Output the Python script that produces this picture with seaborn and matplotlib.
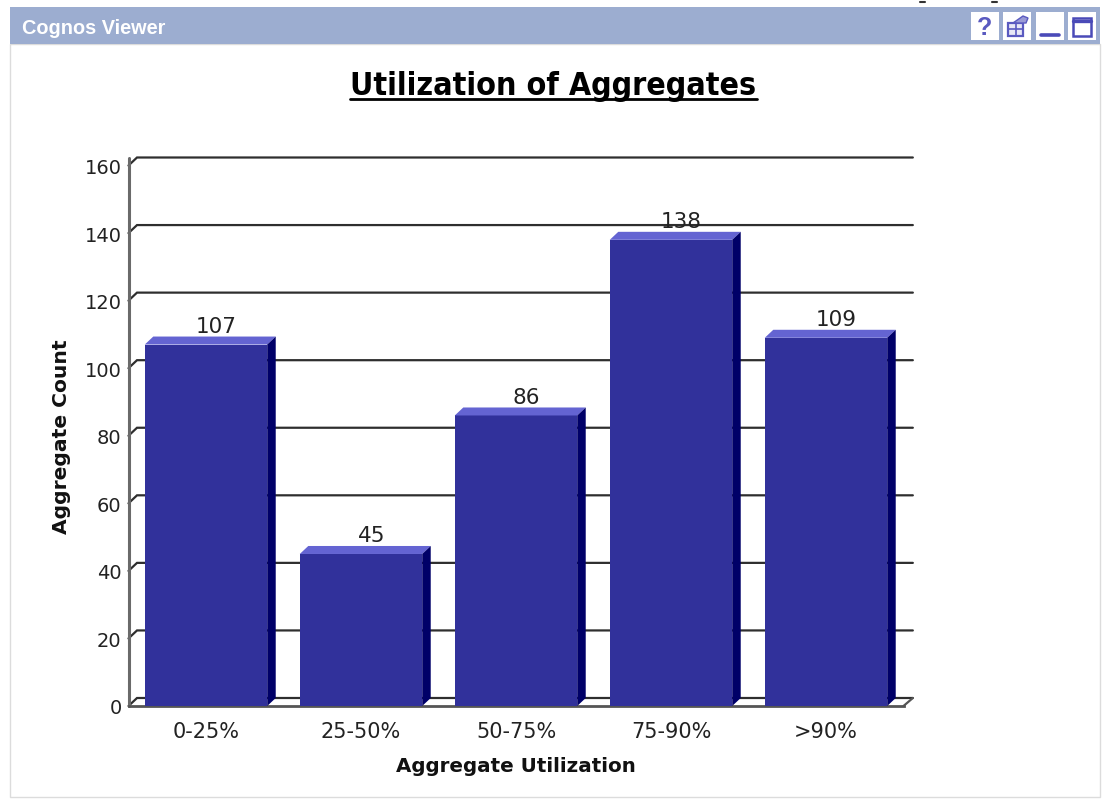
import matplotlib
matplotlib.use("Agg")
import matplotlib.pyplot as plt
from matplotlib.patches import Rectangle, Polygon
from matplotlib.lines import Line2D
import seaborn as sns
import pandas as pd

categories = ["0-25%", "25-50%", "50-75%", "75-90%", ">90%"]
values = [107, 45, 86, 138, 109]
y_ticks = [0, 20, 40, 60, 80, 100, 120, 140, 160]

W, H = 1110, 804
sns.set_theme(style="white")
plt.rcParams["font.family"] = ["DejaVu Sans"]
fig = plt.figure(figsize=(W / 100, H / 100), dpi=100, facecolor="white")

def fx(p): return p / W
def fy(p): return 1 - p / H

# window chrome
fig.add_artist(Rectangle((fx(10), fy(798)), fx(1090), (798 - 45) / H, transform=fig.transFigure,
                         fc="white", ec="#dcdcdc", lw=1))
fig.add_artist(Rectangle((fx(10), fy(45)), fx(1090), 37 / H, transform=fig.transFigure,
                         fc="#9cadd0", ec="none"))
fig.text(fx(22), fy(29), "Cognos Viewer", color="white", fontsize=14.3, fontweight="bold",
         family="Liberation Sans", va="center", ha="left")
for x0 in (971, 1003, 1036, 1068):
    fig.add_artist(Rectangle((fx(x0), fy(41)), fx(28), 28 / H, transform=fig.transFigure,
                             fc="white", ec="none"))
icon = "#5a5ac0"
fig.text(fx(985), fy(28), "?", color=icon, fontsize=18, fontweight="bold", ha="center", va="center",
         family="Liberation Sans")
fig.add_artist(Rectangle((fx(1008), fy(37)), fx(15), 13 / H, transform=fig.transFigure, fc="#e8e8f6", ec=icon, lw=1.6))
fig.add_artist(Line2D([fx(1008), fx(1023)], [fy(30), fy(30)], color=icon, lw=1.2))
fig.add_artist(Line2D([fx(1015.5), fx(1015.5)], [fy(37), fy(24)], color=icon, lw=1.2))
fig.add_artist(Polygon([(fx(1013), fy(24)), (fx(1023), fy(17)), (fx(1028), fy(19)), (fx(1026), fy(24))],
                       closed=True, transform=fig.transFigure, fc="#9a9ad6", ec=icon, lw=1))
fig.add_artist(Line2D([fx(1041), fx(1059)], [fy(36), fy(36)], color="#4a4ab8", lw=2.6))
fig.add_artist(Rectangle((fx(1073), fy(37)), fx(18), 18 / H, transform=fig.transFigure, fc="white", ec="#4a4ab8", lw=1.8))
fig.add_artist(Line2D([fx(1073), fx(1091)], [fy(22), fy(22)], color="#4a4ab8", lw=2.4))
for x0 in (920, 992):
    fig.add_artist(Line2D([fx(x0), fx(x0 + 5)], [fy(3), fy(3)], color="#333333", lw=1.5))

# title
title = fig.text(fx(553.5), fy(86), "Utilization of Aggregates", fontsize=23, fontweight="bold",
                 family="DejaVu Sans", stretch="condensed", ha="center", va="center", color="black")
fig.add_artist(Line2D([fx(350), fx(757)], [fy(100), fy(100)], color="black", lw=2))

# plot
left, right, top, bottom = 128.5, 903.5, 166.5, 707
ax = fig.add_axes([fx(left), fy(bottom), (right - left) / W, (bottom - top) / H])
ax.set_zorder(5)
df = pd.DataFrame({"Aggregate Utilization": categories, "Aggregate Count": values})
sns.barplot(data=df, x="Aggregate Utilization", y="Aggregate Count", color="#31319b", saturation=1,
            width=0.79, linewidth=0, edgecolor="none", ax=ax, zorder=3)
ax.set_xlim(-0.5, 4.5)
ax.set_ylim(0, 160)

px_x = (right - left) / 5
px_y = (bottom - top) / 160
dx = 8.5 / px_x
dy = 8 / px_y

# back wall gridlines and floor
for v in y_ticks:
    ax.plot([-0.5, -0.5 + dx, 4.5 + 1.1 * dx], [v, v + dy, v + dy], color="#2e2e2e", lw=1.6,
            clip_on=False, zorder=1, solid_joinstyle="miter")
ax.plot([-0.5, -0.5], [0, 160 + dy], color="#6a6a6a", lw=2.2, clip_on=False, zorder=2)
ax.plot([4.5, 4.5 + 1.1 * dx], [0, dy], color="#555555", lw=1.6, clip_on=False, zorder=1)

# 3D faces of the bars
for bar, v in zip(ax.patches, values):
    x0 = bar.get_x()
    x1 = x0 + bar.get_width()
    ax.add_patch(Polygon([(x0, v), (x1, v), (x1 + dx, v + dy), (x0 + dx, v + dy)], closed=True,
                         fc="#6464d2", ec="none", clip_on=False, zorder=3))
    ax.add_patch(Polygon([(x1, 0), (x1 + dx, dy), (x1 + dx, v + dy), (x1, v)], closed=True,
                         fc="#000068", ec="none", clip_on=False, zorder=3))
    ax.annotate(str(v), (bar.get_x() + bar.get_width() / 2 + dx / 2, v + dy), xytext=(4.3, 0.5),
                textcoords="offset points", ha="center", va="bottom", fontsize=15.5, color="#222222",
                zorder=4, annotation_clip=False)

ax.set_yticks(y_ticks)
ax.set_xticks(range(5))
ax.set_xticklabels(categories)
ax.tick_params(axis="y", labelsize=14, labelcolor="#222222", length=0, pad=5, left=False)
ax.tick_params(axis="x", labelsize=15, labelcolor="#222222", length=0, pad=11, bottom=False)
ax.set_xlabel("Aggregate Utilization", fontsize=14.3, fontweight="bold", color="#111111", labelpad=10.5)
ax.set_ylabel("Aggregate Count", fontsize=14.6, fontweight="bold", color="#111111", labelpad=9.5)
for s in ("top", "right", "left"):
    ax.spines[s].set_visible(False)
ax.spines["bottom"].set_color("#555555")
ax.spines["bottom"].set_linewidth(2)
ax.patch.set_alpha(0)

fig.savefig("out.png", dpi=100)
